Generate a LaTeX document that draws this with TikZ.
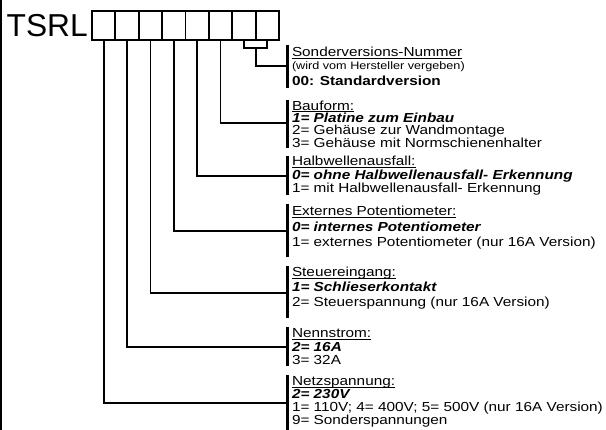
\documentclass[tikz,border=0pt]{standalone}
\usepackage{fontspec}
\usetikzlibrary{calc}
\newfontfamily\labfont[FakeStretch=1.17]{Liberation Sans}
\newfontfamily\tsrlfont{Liberation Sans}
\newcommand\ulx[1]{\setbox0\hbox{#1}\rlap{\rule[-1.7pt]{\wd0}{0.9pt}}\box0}
\begin{document}
\begin{tikzpicture}[x=1pt,y=-1pt,
  box/.style={draw,line width=1.8pt,minimum width=23.4pt,minimum height=29pt,inner sep=0pt,outer sep=0pt},
  conn/.style={line width=1.8pt},
  bar/.style={line width=3pt},
  lbl/.style={anchor=base west,inner sep=0pt,outer sep=0pt,font=\labfont\fontsize{13.1}{14}\selectfont},
  lblb/.style={lbl,font=\labfont\fontsize{13.1}{14}\selectfont\bfseries},
  lblbi/.style={lbl,font=\labfont\fontsize{13.1}{14}\selectfont\bfseries\itshape},
  lbls/.style={lbl,font=\labfont\fontsize{10.8}{12}\selectfont}]
\useasboundingbox (0,0) rectangle (606,430);
\draw[line width=1.2pt] (1,0) -- (1,430);
% title
\node[anchor=base west,inner sep=0pt,font=\tsrlfont\fontsize{31.7}{34}\selectfont] (tsrl) at (6.5,37) {TSRL};
% boxes
\foreach \i in {1,...,8}{
  \node[box] (b\i) at ({92+23.375*(\i-0.5)},25.5) {};
}
% bar coordinates
\coordinate (cS) at (287,66);
\coordinate (cB) at (287,123);
\coordinate (cH) at (287,176);
\coordinate (cE) at (287,231);
\coordinate (cSt) at (287,293);
\coordinate (cN) at (287,347);
\coordinate (cNz) at (287,403);
% bars
\draw[bar] (287,45) -- (287,88);
\draw[bar] (287,100) -- (287,148);
\draw[bar] (287,156) -- (287,195);
\draw[bar] (287,204) -- (287,257);
\draw[bar] (287,266) -- (287,318);
\draw[bar] (287,327) -- (287,366);
\draw[bar] (287,375) -- (287,430);
% connectors
\coordinate (brk) at ($(b7.south)!0.5!(b8.south)+(0,8)$);
\draw[conn] (b7.south) |- (brk) -| (b8.south);
\draw[conn] (brk) |- (cS);
\draw[conn] (b6.south) |- (cB);
\draw[conn] (b5.south) |- (cH);
\draw[conn] (b4.south) |- (cE);
\draw[conn] (b3.south) |- (cSt);
\draw[conn] (b2.south) |- (cN);
\draw[conn] (b1.south) |- (cNz);
% texts
\node[lbl] (s1) at (292,57) {\ulx{Sonderversions-Nummer}};
\node[lbls] (s2) at (292,70) {(wird vom Hersteller vergeben)};
\node[lblb] (s3) at (292,86) {00: Standardversion};

\node[lbl] (f1) at (292,110.5) {\ulx{Bauform:}};
\node[lblbi] (f2) at (292,122.5) {1= Platine zum Einbau};
\node[lbl] (f3) at (292,135) {2= Gehäuse zur Wandmontage};
\node[lbl] (f4) at (292,147.5) {3= Gehäuse mit Normschienenhalter};

\node[lbl] (h1) at (292,166) {\ulx{Halbwellenausfall:}};
\node[lblbi] (h2) at (292,179.5) {0= ohne Halbwellenausfall- Erkennung};
\node[lbl] (h3) at (292,192.5) {1= mit Halbwellenausfall- Erkennung};

\node[lbl] (e1) at (292,216) {\ulx{Externes Potentiometer:}};
\node[lblbi] (e2) at (292,232) {0= internes Potentiometer};
\node[lbl] (e3) at (292,247) {1= externes Potentiometer (nur 16A Version)};

\node[lbl] (g1) at (292,277) {\ulx{Steuereingang:}};
\node[lblbi] (g2) at (292,291.5) {1= Schlieserkontakt};
\node[lbl] (g3) at (292,307) {2= Steuerspannung (nur 16A Version)};

\node[lbl] (n1) at (292,338) {\ulx{Nennstrom:}};
\node[lblbi] (n2) at (292,352) {2= 16A};
\node[lbl] (n3) at (292,364.5) {3= 32A};

\node[lbl] (z1) at (292,386) {\ulx{Netzspannung:}};
\node[lblbi] (z2) at (292,399) {2= 230V};
\node[lbl] (z3) at (292,411.5) {1= 110V; 4= 400V; 5= 500V (nur 16A Version)};
\node[lbl] (z4) at (292,425) {9= Sonderspannungen};
\end{tikzpicture}
\end{document}
